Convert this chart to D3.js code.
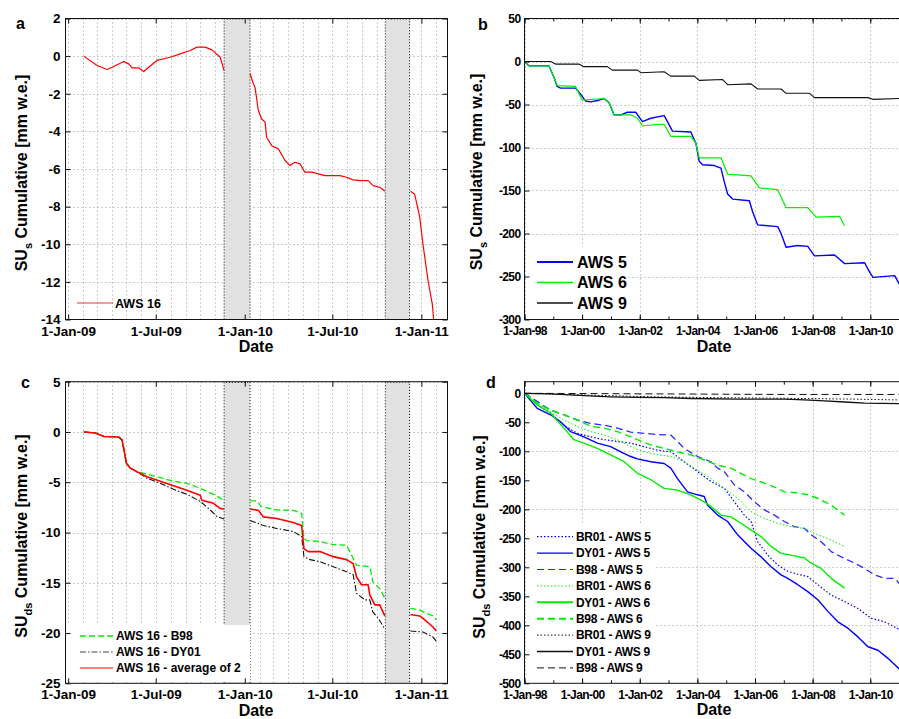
<!DOCTYPE html>
<html><head><meta charset="utf-8">
<script src="https://cdn.jsdelivr.net/npm/d3@7"></script>
<style>
body{margin:0;background:#fff}
svg{display:block}
text{font-family:"Liberation Sans",Arial,Helvetica,sans-serif}
</style>
</head><body><svg id="chart" width="899" height="719"></svg>
<script>
// ---------------- DATA (decimal year, value) ----------------
// Panel a : SU_s cumulative, AWS 16
const aws16 = [[2009.088,0],[2009.164,-0.5],[2009.220,-0.71],[2009.249,-0.59],[2009.315,-0.29],[2009.343,-0.41],[2009.362,-0.62],[2009.399,-0.62],[2009.428,-0.82],[2009.456,-0.59],[2009.503,-0.23],[2009.578,-0.06],[2009.635,0.12],[2009.691,0.30],[2009.729,0.48],[2009.776,0.48],[2009.814,0.33],[2009.861,-0.06],[2009.883,-0.77],[2009.95,null],[2010.030,-0.94],[2010.049,-1.48],[2010.058,-1.65],[2010.077,-2.89],[2010.096,-3.34],[2010.115,-3.51],[2010.124,-4.31],[2010.153,-4.76],[2010.190,-4.93],[2010.228,-5.55],[2010.256,-5.82],[2010.284,-5.64],[2010.313,-5.73],[2010.341,-6.17],[2010.379,-6.17],[2010.416,-6.26],[2010.454,-6.35],[2010.539,-6.35],[2010.576,-6.44],[2010.614,-6.58],[2010.652,-6.62],[2010.699,-6.62],[2010.727,-6.88],[2010.765,-6.97],[2010.793,-7.18],[2010.86,null],[2010.938,-7.18],[2010.962,-7.33],[2010.991,-8.57],[2011.009,-9.99],[2011.038,-11.94],[2011.062,-13.18],[2011.070,-14.03]];

// Gap periods (grey bands), decimal years
const grayStart = [2009.883, 2010.796];
const grayEnd = [2010.030, 2010.933];

// Panel b : SU_s cumulative, AWS 5 / 6 / 9
const aws5b = [[1998.0,0],[1998.151,-5],[1998.846,-5],[1999.02,-18],[1999.136,-29],[1999.252,-31],[1999.774,-31],[1999.948,-38],[2000.122,-46],[2000.296,-47],[2000.586,-45],[2000.759,-43],[2000.933,-48],[2001.107,-62],[2001.339,-62],[2001.571,-59],[2001.861,-59],[2002.093,-70],[2002.383,-66],[2002.846,-63],[2002.962,-70],[2003.136,-81],[2003.774,-82],[2003.948,-95],[2004.064,-116],[2004.18,-120],[2004.586,-121],[2004.817,-124],[2004.933,-140],[2005.049,-154],[2005.223,-160],[2005.803,-162],[2005.919,-175],[2006.093,-190],[2006.788,-192],[2006.904,-200],[2007.078,-216],[2007.484,-214],[2007.832,-215],[2008.064,-226],[2008.759,-225],[2008.933,-230],[2009.107,-235],[2009.803,-234],[2009.977,-245],[2010.093,-251],[2010.846,-249],[2011.043,-261]];
const aws6b = [[1998.0,0],[1998.151,-5],[1998.846,-5],[1999.02,-18],[1999.136,-28],[1999.774,-29],[2000.006,-45],[2000.759,-43],[2000.933,-48],[2001.107,-62],[2001.687,-62],[2001.919,-66],[2002.093,-75],[2002.614,-73],[2002.846,-73],[2003.078,-87],[2003.774,-87],[2003.948,-95],[2004.064,-112],[2004.817,-112],[2005.049,-131],[2005.861,-133],[2006.151,-147],[2006.788,-149],[2007.078,-170],[2007.832,-170],[2008.122,-181],[2008.933,-180],[2009.107,-191]];
const aws9b = [[1998.0,0],[1998.904,0],[1999.078,-3],[1999.89,-3],[2000.064,-6],[2000.875,-6],[2001.049,-10],[2001.919,-10],[2002.035,-13],[2002.846,-12],[2003.078,-17],[2003.89,-17],[2004.064,-22],[2004.875,-21],[2005.049,-27],[2005.861,-26],[2006.093,-32],[2006.904,-32],[2007.078,-37],[2007.89,-37],[2008.064,-42],[2009.919,-42],[2010.093,-44],[2011.043,-43]];

// Panel c : SU_ds cumulative, AWS 16
const cB98 = [[2009.0885,0],[2009.1544,-0.1],[2009.2015,-0.45],[2009.2863,-0.5],[2009.3051,-0.8],[2009.3183,-1.97],[2009.3296,-3.1],[2009.3522,-3.6],[2009.3898,-3.95],[2009.4463,-4.2],[2009.5217,-4.55],[2009.5970,-4.9],[2009.6723,-5.1],[2009.7476,-5.6],[2009.8230,-6.2],[2009.8832,-6.8],[2009.95,null],[2010.0301,-6.85],[2010.0678,-6.85],[2010.0960,-7.45],[2010.1808,-7.75],[2010.2750,-7.8],[2010.3220,-8.1],[2010.3352,-10.6],[2010.3503,-10.8],[2010.4256,-10.9],[2010.5009,-11.2],[2010.5763,-11.25],[2010.6328,-13.25],[2010.7081,-13.4],[2010.7250,-14.9],[2010.7646,-15.6],[2010.7928,-16.55],[2010.86,null],[2010.9379,-17.55],[2010.9906,-17.7],[2011.0094,-17.9],[2011.0659,-18.3],[2011.0847,-18.7]];
const cDY01 = [[2009.0885,0],[2009.1544,-0.1],[2009.2015,-0.45],[2009.2863,-0.5],[2009.3051,-0.8],[2009.3183,-1.97],[2009.3296,-3.1],[2009.3522,-3.6],[2009.3898,-3.95],[2009.4463,-4.6],[2009.5217,-5.1],[2009.5970,-5.7],[2009.6723,-6.2],[2009.7476,-6.9],[2009.8041,-7.75],[2009.8418,-8.4],[2009.8832,-8.65],[2009.95,null],[2010.0301,-8.8],[2010.0772,-9.1],[2010.1055,-9.3],[2010.1808,-9.6],[2010.2750,-9.9],[2010.3220,-10.4],[2010.3352,-12.4],[2010.3691,-12.7],[2010.4256,-12.9],[2010.5009,-13.4],[2010.5763,-13.9],[2010.6139,-14.2],[2010.6328,-16.05],[2010.6798,-16.7],[2010.7081,-16.7],[2010.7250,-17.9],[2010.7552,-18.5],[2010.7928,-19.6],[2010.86,null],[2010.9379,-19.8],[2011.0094,-19.9],[2011.0659,-20.4],[2011.0847,-20.8]];
const cAvg = [[2009.0885,0],[2009.1544,-0.1],[2009.2015,-0.45],[2009.2863,-0.5],[2009.3051,-0.8],[2009.3183,-1.97],[2009.3296,-3.1],[2009.3522,-3.6],[2009.3898,-3.95],[2009.4463,-4.45],[2009.5217,-4.9],[2009.5970,-5.35],[2009.6723,-5.8],[2009.7476,-6.3],[2009.7571,-6.8],[2009.8230,-7.1],[2009.8606,-7.6],[2009.8832,-7.67],[2009.95,null],[2010.0301,-7.67],[2010.0772,-7.8],[2010.1055,-8.45],[2010.1808,-8.6],[2010.2750,-9.0],[2010.3220,-9.3],[2010.3352,-11.6],[2010.3597,-11.9],[2010.4256,-11.9],[2010.5009,-12.4],[2010.5763,-12.7],[2010.6139,-13.1],[2010.6328,-14.4],[2010.6610,-15.2],[2010.6987,-15.2],[2010.7081,-16.2],[2010.7363,-17.2],[2010.7646,-17.2],[2010.7928,-18.3],[2010.86,null],[2010.9379,-18.15],[2010.9906,-18.3],[2011.0094,-18.55],[2011.0659,-19.4],[2011.0847,-19.8]];

// Panel d : SU_ds cumulative, AWS 5 / 6 / 9 with three snow datasets
const dBR01_5 = [[1998,0],[1998.441,-20],[1998.904,-34],[1999.368,-55],[1999.832,-69],[2000.296,-75],[2000.759,-80],[2001.223,-83],[2001.687,-86],[2002.151,-92],[2002.614,-98],[2003.078,-101],[2003.542,-118],[2004.006,-135],[2004.470,-152],[2004.933,-164],[2005.281,-187],[2005.629,-210],[2005.861,-221],[2006.093,-256],[2006.441,-279],[2006.788,-296],[2007.136,-307],[2007.484,-312],[2007.832,-316],[2008.180,-330],[2008.643,-348],[2009.107,-359],[2009.571,-371],[2010.035,-388],[2010.499,-394],[2011.043,-408]];
const dDY01_5 = [[1998,0],[1998.441,-26],[1998.904,-37],[1999.252,-49],[1999.6,-66],[2000.064,-75],[2000.528,-86],[2000.991,-92],[2001.339,-101],[2001.687,-109],[2001.919,-113],[2002.383,-118],[2002.846,-121],[2003.078,-129],[2003.310,-147],[2003.658,-170],[2004.006,-175],[2004.238,-178],[2004.354,-193],[2004.701,-210],[2005.049,-221],[2005.397,-244],[2005.861,-267],[2006.209,-282],[2006.557,-299],[2006.904,-313],[2007.136,-319],[2007.484,-330],[2007.832,-342],[2008.180,-356],[2008.528,-376],[2008.875,-394],[2009.223,-405],[2009.571,-420],[2009.919,-437],[2010.267,-443],[2010.614,-457],[2011.043,-477]];
const dB98_5 = [[1998,0],[1998.441,-14],[1998.904,-29],[1999.368,-37],[1999.832,-46],[2000.296,-52],[2000.759,-55],[2001.223,-60],[2001.687,-67],[2002.151,-69],[2002.614,-71],[2003.078,-72],[2003.310,-83],[2003.542,-95],[2004.006,-109],[2004.470,-118],[2004.701,-129],[2004.933,-135],[2005.281,-158],[2005.629,-170],[2005.977,-187],[2006.325,-201],[2006.672,-210],[2007.020,-221],[2007.368,-230],[2007.716,-233],[2007.948,-244],[2008.296,-256],[2008.643,-273],[2008.991,-282],[2009.339,-290],[2009.803,-302],[2010.151,-313],[2010.499,-319],[2010.846,-319],[2011.043,-330]];
const dBR01_6 = [[1998,0],[1998.441,-17],[1998.904,-32],[1999.368,-46],[1999.832,-57],[2000.296,-66],[2000.759,-72],[2001.223,-80],[2001.687,-92],[2002.151,-101],[2002.614,-106],[2003.078,-109],[2003.542,-118],[2004.006,-132],[2004.470,-147],[2004.933,-164],[2005.397,-181],[2005.861,-204],[2006.325,-216],[2006.788,-224],[2007.252,-230],[2007.716,-233],[2008.180,-244],[2008.643,-253],[2009.107,-264]];
const dDY01_6 = [[1998,0],[1998.441,-20],[1998.904,-34],[1999.368,-60],[1999.716,-80],[2000.064,-86],[2000.528,-95],[2000.991,-106],[2001.455,-118],[2001.919,-138],[2002.383,-149],[2002.846,-164],[2003.310,-167],[2003.774,-175],[2004.238,-187],[2004.470,-195],[2004.817,-210],[2005.165,-213],[2005.513,-224],[2005.861,-236],[2006.209,-247],[2006.557,-264],[2006.904,-276],[2007.252,-279],[2007.716,-284],[2007.948,-293],[2008.296,-302],[2008.643,-319],[2009.107,-336]];
const dB98_6 = [[1998,0],[1998.441,-17],[1998.904,-29],[1999.368,-37],[1999.832,-46],[2000.296,-57],[2000.759,-60],[2001.223,-66],[2001.687,-75],[2001.919,-80],[2002.383,-89],[2002.846,-95],[2003.310,-101],[2003.774,-106],[2004.238,-115],[2004.701,-124],[2005.165,-129],[2005.513,-138],[2005.861,-147],[2006.325,-155],[2006.788,-164],[2007.020,-170],[2007.484,-172],[2007.832,-175],[2008.180,-181],[2008.643,-193],[2009.107,-210]];
const dBR01_9 = [[1998,0],[2000.064,-3],[2002.383,-6],[2004.701,-7.5],[2007.020,-8.6],[2009.339,-10],[2011.043,-11.5]];
const dDY01_9 = [[1998,0],[1998.904,-1],[2000.064,-4],[2000.991,-6],[2001.919,-7],[2002.846,-7.5],[2003.774,-9],[2005.397,-10],[2007.020,-10],[2007.716,-11.5],[2008.412,-13],[2009.107,-15],[2009.803,-17],[2011.043,-18]];
const dB98_9 = [[1998,0],[2002.383,-1],[2007.020,-2],[2011.043,-2]];

// Tick labels
const acTickDates = ["2009-01-01","2009-07-01","2010-01-01","2010-07-01","2011-01-01"];
const bdTickDates = ["1998-01-01","2000-01-01","2002-01-01","2004-01-01","2006-01-01","2008-01-01","2010-01-01"];
const aYTicks = [2,0,-2,-4,-6,-8,-10,-12,-14];
const bYTicks = [50,0,-50,-100,-150,-200,-250,-300];
const cYTicks = [5,0,-5,-10,-15,-20,-25];
const dYTicks = [0,-50,-100,-150,-200,-250,-300,-350,-400,-450,-500];
const dYGrid = [-100,-200,-300,-400];

// ---------------- DRAWING ----------------
const svg = d3.select('#chart');
svg.append('rect').attr('width',899).attr('height',719).attr('fill','#fff');
const FONT = '"Liberation Sans",Arial,Helvetica,sans-serif';

function yd(v){ const Y=Math.floor(v); const s=Date.UTC(Y,0,1), e=Date.UTC(Y+1,0,1); return new Date(s+(v-Y)*(e-s)); }
const parse = d3.utcParse('%Y-%m-%d');
const fmt = d3.utcFormat('%-d-%b-%y');

function drawPanel(p){
  const x = d3.scaleUtc().domain([yd(p.x0), yd(p.x1)]).range([p.L, p.R]);
  const y = d3.scaleLinear().domain([p.y0, p.y1]).range([p.B, p.T]);
  const g = svg.append('g');
  const clipId = 'clip-'+p.id;
  svg.append('clipPath').attr('id',clipId).append('rect')
    .attr('x',p.L).attr('y',p.T).attr('width',p.R-p.L).attr('height',p.B-p.T);
  const inner = g.append('g').attr('clip-path',`url(#${clipId})`);

  // grid
  inner.selectAll('line.vg').data(p.vgrid).join('line').attr('class','vg')
    .attr('x1',d=>Math.round(x(d))+0.5).attr('x2',d=>Math.round(x(d))+0.5)
    .attr('y1',p.T).attr('y2',p.B)
    .attr('stroke','#9a9a9a').attr('stroke-width',1).attr('stroke-dasharray','1,3');
  inner.selectAll('line.hg').data(p.hgrid).join('line').attr('class','hg')
    .attr('x1',p.L).attr('x2',p.R)
    .attr('y1',d=>Math.round(y(d))+0.5).attr('y2',d=>Math.round(y(d))+0.5)
    .attr('stroke','#9a9a9a').attr('stroke-width',1).attr('stroke-dasharray','1,3');

  // grey gap bands
  if(p.gray){
    grayStart.forEach((s,i)=>{
      const x1=x(yd(s)), x2=x(yd(grayEnd[i]));
      inner.append('rect').attr('x',x1).attr('y',p.T).attr('width',x2-x1).attr('height',p.B-p.T).attr('fill','#e1e1e1');
      inner.append('path').attr('d',`M${x1},${p.B}V${p.T+0.5}H${x2}V${p.B}`)
        .attr('fill','none').attr('stroke','#000').attr('stroke-width',1).attr('stroke-dasharray','1,2');
    });
  }

  // series
  const line = d3.line().defined(d=>d[1]!==null).x(d=>x(yd(d[0]))).y(d=>y(d[1]));
  p.series.forEach(s=>{
    inner.append('path').attr('d',line(s.data)).attr('fill','none')
      .attr('stroke',s.color).attr('stroke-width',s.w)
      .attr('stroke-dasharray',s.dash||null).attr('stroke-linejoin','round');
  });

  // legend
  if(p.legend){
    const lg = p.legend;
    if(lg.box) g.append('rect').attr('x',lg.box[0]).attr('y',lg.box[1]).attr('width',lg.box[2]).attr('height',lg.box[3]).attr('fill','#fff');
    p.series.forEach((s,i)=>{
      const yy = lg.y0 + i*lg.dy;
      g.append('line').attr('x1',lg.x1).attr('x2',lg.x2).attr('y1',yy).attr('y2',yy)
        .attr('stroke',s.color).attr('stroke-width',s.lw||s.w).attr('stroke-dasharray',s.dash||null);
      g.append('text').attr('x',lg.tx).attr('y',yy).attr('dy','0.36em')
        .attr('font-size',lg.fs).attr('font-weight','bold').attr('letter-spacing',lg.ls||0)
        .attr('fill','#000').text(s.name);
    });
  }

  // frame
  g.append('rect').attr('x',p.L).attr('y',p.T).attr('width',p.R-p.L).attr('height',p.B-p.T)
    .attr('fill','none').attr('stroke','#111').attr('stroke-width',1);

  // axes
  const tickFont = sel=>sel.selectAll('text').attr('font-family',FONT).attr('font-size',p.tfs)
    .attr('font-weight','bold').attr('letter-spacing',p.tls||0).attr('fill','#000');
  const clean = sel=>{ sel.select('.domain').remove(); sel.selectAll('line').attr('stroke','#111'); };
  const xt = p.xticks.map(parse);
  const gb = g.append('g').attr('transform',`translate(0,${p.B})`)
    .call(d3.axisBottom(x).tickValues(xt).tickFormat(fmt).tickSize(-5).tickPadding(p.xpad));
  clean(gb); tickFont(gb);
  const gt = g.append('g').attr('transform',`translate(0,${p.T})`)
    .call(d3.axisTop(x).tickValues(xt).tickFormat('').tickSize(-5));
  clean(gt);
  if(p.minorX){
    const gbm = g.append('g').attr('transform',`translate(0,${p.B})`)
      .call(d3.axisBottom(x).tickValues(p.minorX).tickFormat('').tickSize(-3));
    clean(gbm);
    const gtm = g.append('g').attr('transform',`translate(0,${p.T})`)
      .call(d3.axisTop(x).tickValues(p.minorX).tickFormat('').tickSize(-3));
    clean(gtm);
  }
  const gl = g.append('g').attr('transform',`translate(${p.L},0)`)
    .call(d3.axisLeft(y).tickValues(p.yticks).tickFormat(d=>String(d)).tickSize(-5).tickPadding(p.ypad));
  clean(gl); tickFont(gl);
  const gr = g.append('g').attr('transform',`translate(${p.R},0)`)
    .call(d3.axisRight(y).tickValues(p.yticks).tickFormat('').tickSize(-5));
  clean(gr);

  // axis titles
  g.append('text').attr('x',p.dateX).attr('y',p.dateY).attr('text-anchor','middle')
    .attr('font-size',16).attr('font-weight','bold').text('Date');
  const yl = g.append('text').attr('transform',`translate(${p.ylX},${p.ylY}) rotate(-90)`)
    .attr('text-anchor','middle').attr('font-size',16).attr('font-weight','bold');
  yl.append('tspan').text('SU');
  yl.append('tspan').attr('font-size',11).attr('dy',5).text(p.sub);
  yl.append('tspan').attr('dy',-5).text(' Cumulative [mm w.e.]');
  g.append('text').attr('x',p.letX).attr('y',p.letY).attr('font-size',16).attr('font-weight','bold').text(p.letter);
}

const monthsAC = d3.utcMonth.range(yd(2008.985), yd(2011.148));
const yearsBD = d3.utcYear.range(yd(1998), yd(2011.3));
const majBD = bdTickDates.map(parse);

// Panel a
drawPanel({id:'a', L:65.5, R:447.5, T:18.5, B:319.5, x0:2008.985, x1:2011.148, y0:-14, y1:2,
  vgrid:monthsAC, hgrid:aYTicks, gray:true, xticks:acTickDates, yticks:aYTicks,
  tfs:13.5, xpad:7, ypad:5,
  series:[{name:'AWS 16', data:aws16, color:'#ff0000', w:1.2, lw:0.8}],
  legend:{x1:77, x2:113, tx:115, y0:303, dy:0, fs:12.5},
  dateX:256, dateY:352, ylX:27, ylY:173, sub:'s', letter:'a', letX:16, letY:29});

// Panel b
drawPanel({id:'b', L:524.5, R:906, T:18.5, B:319.5, x0:1998, x1:2011.24, y0:-300, y1:50,
  vgrid:majBD, hgrid:bYTicks, gray:false, xticks:bdTickDates, yticks:bYTicks, minorX:yearsBD,
  tfs:12, tls:-0.6, xpad:6.5, ypad:4,
  series:[{name:'AWS 5', data:aws5b, color:'#0000ff', w:1.4, lw:2},
          {name:'AWS 6', data:aws6b, color:'#00ee00', w:1.2, lw:1.4},
          {name:'AWS 9', data:aws9b, color:'#111', w:1.1, lw:1.4}],
  legend:{box:[526,247,102,71], x1:537, x2:573, tx:577, y0:262, dy:20.5, fs:16},
  dateX:714, dateY:352, ylX:482, ylY:172, sub:'s', letter:'b', letX:478, letY:30});

// Panel c
drawPanel({id:'c', L:65.5, R:447.5, T:381.7, B:683.3, x0:2008.985, x1:2011.148, y0:-25, y1:5,
  vgrid:monthsAC, hgrid:cYTicks, gray:true, xticks:acTickDates, yticks:cYTicks,
  tfs:13.5, xpad:6.5, ypad:5,
  series:[{name:'AWS 16 - B98', data:cB98, color:'#00ee00', w:1.3, dash:'6,3'},
          {name:'AWS 16 - DY01', data:cDY01, color:'#111', w:1.1, dash:'6,2,1.5,2', lw:0.8},
          {name:'AWS 16 - average of 2', data:cAvg, color:'#ff0000', w:1.6, lw:1.2}],
  legend:{box:[68,625,182,57], x1:80, x2:113, tx:116, y0:636, dy:16, fs:12},
  dateX:256, dateY:716, ylX:27, ylY:536, sub:'ds', letter:'c', letX:21, letY:388});

// Panel d
drawPanel({id:'d', L:524.5, R:906, T:381.7, B:683.3, x0:1998, x1:2011.24, y0:-500, y1:20,
  vgrid:majBD, hgrid:dYGrid, gray:false, xticks:bdTickDates, yticks:dYTicks, minorX:yearsBD,
  tfs:12, tls:-0.6, xpad:7, ypad:4,
  series:[{name:'BR01 - AWS 5', data:dBR01_5, color:'#0000ff', w:1.2, dash:'1.5,2'},
          {name:'DY01 - AWS 5', data:dDY01_5, color:'#0000ff', w:1.4},
          {name:'B98 - AWS 5', data:dB98_5, color:'#2b2bff', w:1.3, dash:'7,4', lw:1},
          {name:'BR01 - AWS 6', data:dBR01_6, color:'#00ee00', w:1, dash:'1.5,2'},
          {name:'DY01 - AWS 6', data:dDY01_6, color:'#00ee00', w:1.4, lw:2},
          {name:'B98 - AWS 6', data:dB98_6, color:'#00ee00', w:1.4, dash:'7,4', lw:2},
          {name:'BR01 - AWS 9', data:dBR01_9, color:'#111', w:1, dash:'1.5,2'},
          {name:'DY01 - AWS 9', data:dDY01_9, color:'#111', w:1.3},
          {name:'B98 - AWS 9', data:dB98_9, color:'#111', w:1, dash:'7,4'}],
  legend:{box:[526,525,129,157], x1:537, x2:573, tx:576, y0:536.7, dy:16.4, fs:12, ls:-0.3},
  dateX:714, dateY:715, ylX:485, ylY:537, sub:'ds', letter:'d', letX:486, letY:388});
</script>
</body></html>
